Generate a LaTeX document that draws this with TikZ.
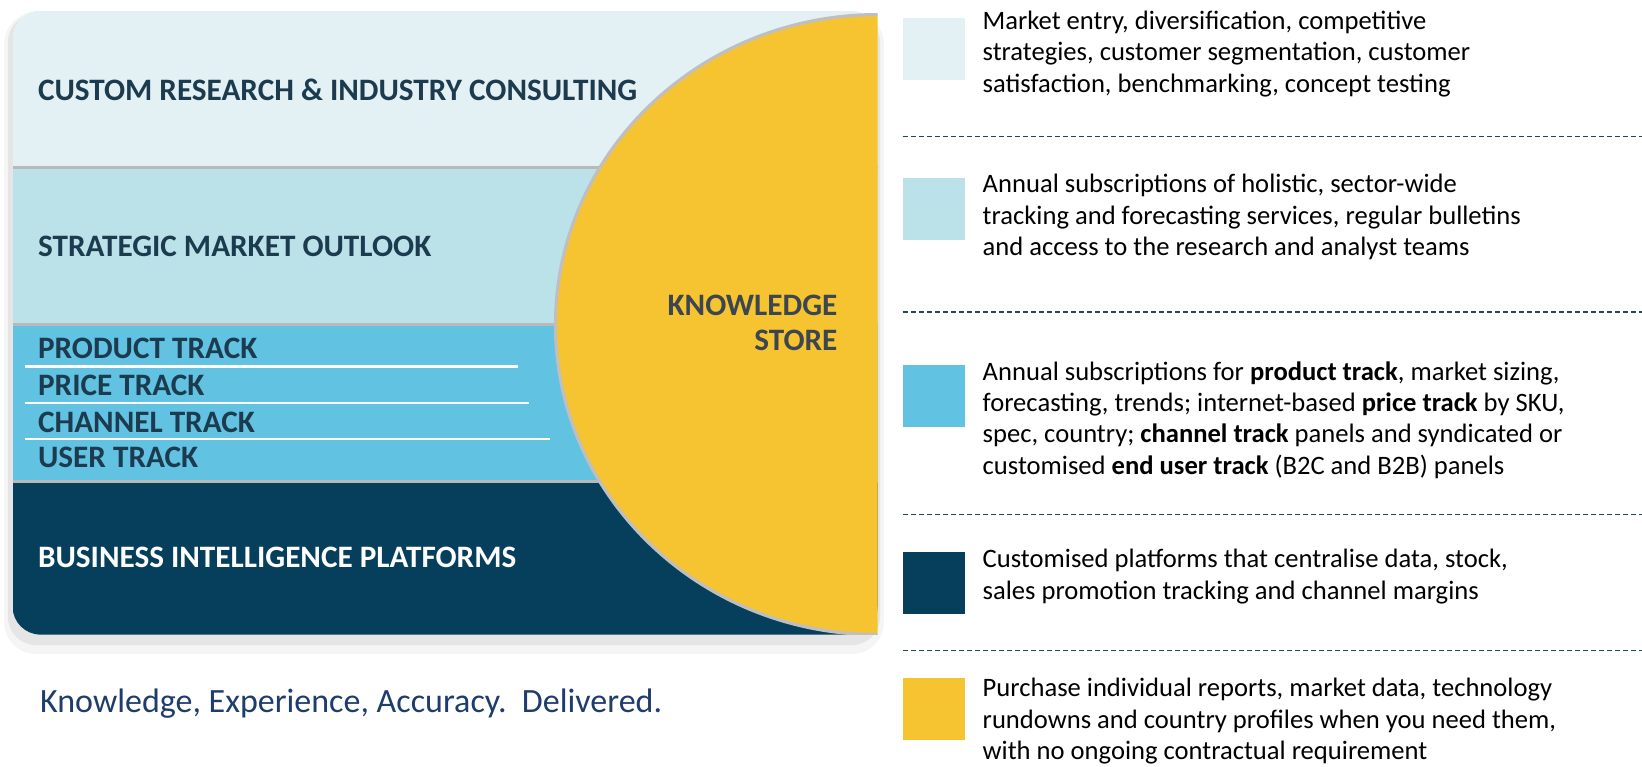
\documentclass[tikz,border=0pt]{standalone}
\usepackage{fontspec}
\setmainfont{Carlito}
\usetikzlibrary{positioning}
\definecolor{band_top}{HTML}{E3F1F5}
\definecolor{band_outlook}{HTML}{BCE2E9}
\definecolor{band_track}{HTML}{62C2E2}
\definecolor{band_bi}{HTML}{053F5C}
\definecolor{store_yellow}{HTML}{F6C431}
\definecolor{label_dark}{HTML}{1C3B4E}
\definecolor{store_text}{HTML}{3C4650}
\definecolor{tagline_blue}{HTML}{1E3C6C}
\definecolor{dash_teal}{HTML}{22495A}
\tikzset{
    bandlabel/.style={anchor=west,inner sep=0pt,font=\fontsize{15.6}{17.2}\selectfont\bfseries,text=label_dark},
    legendbox/.style={minimum width=30.9pt,minimum height=30.9pt,inner sep=0pt,anchor=north west},
    legendtext/.style={anchor=north west,inner sep=0pt,align=left,font=\fontsize{13.3}{15.7}\selectfont,text=black},
    separator/.style={dash_teal,dash pattern=on 2.5pt off 1.5pt,line width=0.6pt},
    bandedge/.style={gray!55,line width=1.4pt},
    trackline/.style={white,line width=1.2pt},
}

\begin{document}
\begin{tikzpicture}[x=0.5pt,y=-0.5pt]
  \useasboundingbox (0,0) rectangle (1642,766);
  \coordinate (NW) at (12.6,10.5);
  \coordinate (SE) at (877.5,634.6);
  \coordinate (C) at (877.5,324.6);
  \fill[black!4,rounded corners=16pt] (4,12) rectangle (884,654);
  \fill[black!10,rounded corners=14pt] (8,14) rectangle (880,645);
  \begin{scope}
    \clip[rounded corners=14pt] (NW) rectangle (SE);
    \fill[band_top] (12.6,10.5) rectangle (877.5,167.5);
    \fill[band_outlook] (12.6,167.5) rectangle (877.5,324.6);
    \fill[band_track] (12.6,324.6) rectangle (877.5,481.7);
    \fill[band_bi] (12.6,481.7) rectangle (877.5,634.6);
    \draw[bandedge] (12.6,167.5) -- (877.5,167.5);
    \draw[bandedge] (12.6,324.6) -- (877.5,324.6);
    \draw[bandedge] (12.6,481.7) -- (877.5,481.7);
    \draw[trackline] (25.1,366.5) -- (518.4,366.5);
    \draw[trackline] (25.1,403.2) -- (528.8,403.2);
    \draw[trackline] (25.1,438.8) -- (549.8,438.8);
  \end{scope}
  \begin{scope}
    \clip (NW) rectangle (SE);
    \fill[store_yellow] (C) ellipse [x radius=322,y radius=310];
    \draw[gray!50,line width=1.6pt] (C) ellipse [x radius=322,y radius=310];
  \end{scope}
  \node[bandlabel] (custom) at (37.7,90) {CUSTOM RESEARCH \& INDUSTRY CONSULTING};
  \node[bandlabel] (outlook) at (37.7,246) {STRATEGIC MARKET OUTLOOK};
  \node[bandlabel] (product) at (37.7,348.7) {PRODUCT TRACK};
  \node[bandlabel] (price) at (37.7,385.4) {PRICE TRACK};
  \node[bandlabel] (channel) at (37.7,422) {CHANNEL TRACK};
  \node[bandlabel] (user) at (37.7,457.6) {USER TRACK};
  \node[bandlabel,text=white] (bi) at (37.7,557.1) {BUSINESS INTELLIGENCE PLATFORMS};
  \node[bandlabel,anchor=east,align=right,text=store_text] (store) at (837.8,323) {KNOWLEDGE\\STORE};
  \node[anchor=west,inner sep=0pt,font=\fontsize{17}{20}\selectfont,text=tagline_blue] (tagline) at (39.8,703.7) {Knowledge, Experience, Accuracy.\ \ Delivered.};
  \node[legendbox,fill=band_top] (sq1) at (902.7,17.8) {};
  \node[legendbox,fill=band_outlook] (sq2) at (902.7,178) {};
  \node[legendbox,fill=band_track] (sq3) at (902.7,364.4) {};
  \node[legendbox,fill=band_bi] (sq4) at (902.7,551.9) {};
  \node[legendbox,fill=store_yellow] (sq5) at (902.7,677.5) {};
  \node[legendtext] (txt1) at (982.3,10.6) {Market entry, diversification, competitive\\strategies, customer segmentation, customer\\satisfaction, benchmarking, concept testing};
  \node[legendtext] (txt2) at (982.3,174) {Annual subscriptions of holistic, sector-wide\\tracking and forecasting services, regular bulletins\\and access to the research and analyst teams};
  \node[legendtext] (txt3) at (982.3,361) {Annual subscriptions for \textbf{product track}, market sizing,\\forecasting, trends; internet-based \textbf{price track} by SKU,\\spec, country; \textbf{channel track} panels and syndicated or\\customised \textbf{end user track} (B2C and B2B) panels};
  \node[legendtext] (txt4) at (982.3,549) {Customised platforms that centralise data, stock,\\sales promotion tracking and channel margins};
  \node[legendtext] (txt5) at (982.3,678) {Purchase individual reports, market data, technology\\rundowns and country profiles when you need them,\\with no ongoing contractual requirement};
  \foreach \y in {136.1,312,514.2,650.3}
    \draw[separator] (902.7,\y) -- (1642,\y);
\end{tikzpicture}
\end{document}
